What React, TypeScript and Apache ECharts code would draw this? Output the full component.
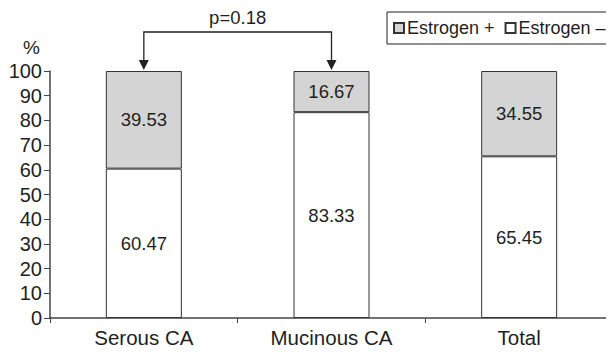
import React, { useEffect, useRef } from "react";
import * as echarts from "echarts";

const categories = ["Serous CA", "Mucinous CA", "Total"];
const estrogenNeg = [60.47, 83.33, 65.45];
const estrogenPos = [39.53, 16.67, 34.55];
const yTicks = [0, 100];
const pValueText = "p=0.18";
const compareFrom = 0;
const compareTo = 1;

const TXT = "#231f20";
const FONT = "Liberation Sans, Arial, sans-serif";

export default function App() {
  const ref = useRef<HTMLDivElement>(null);
  useEffect(() => {
    if (!ref.current) return;
    const chart = echarts.init(ref.current, null, { renderer: "svg" });
    const labelStyle = {
      show: true,
      position: "inside" as const,
      color: TXT,
      fontSize: 18.5,
      fontFamily: FONT,
      formatter: (p: any) => p.value.toFixed(2),
    };
    chart.setOption({
      animation: false,
      textStyle: { fontFamily: FONT },
      grid: { left: 50, right: 1, top: 71, bottom: 37, containLabel: false },
      legend: {
        data: ["Estrogen +", "Estrogen –"],
        orient: "horizontal",
        left: 387,
        top: 12,
        width: 300,
        padding: [7, 40, 7, 6],
        itemGap: 10,
        itemWidth: 10,
        itemHeight: 10,
        icon: "rect",
        borderColor: "#222",
        borderWidth: 1,
        borderRadius: 0,
        textStyle: { color: TXT, fontSize: 18, fontFamily: FONT, padding: [0, 0, 0, -2] },
      },
      xAxis: {
        type: "category",
        data: categories,
        axisLine: { lineStyle: { color: "#444", width: 1.5 } },
        axisTick: { show: true, length: 5, inside: false, lineStyle: { color: "#444" } },
        axisLabel: { color: TXT, fontSize: 20.5, fontFamily: FONT, margin: 9 },
      },
      yAxis: {
        type: "value",
        min: yTicks[0],
        max: yTicks[1],
        interval: 10,
        name: "%",
        nameLocation: "end",
        nameGap: 14,
        nameTextStyle: { color: TXT, fontSize: 19, fontFamily: FONT, align: "right", padding: [0, 10, 0, 0] },
        axisLine: { show: true, lineStyle: { color: "#444", width: 1.5 } },
        axisTick: { show: true, length: 6, lineStyle: { color: "#444" } },
        axisLabel: { color: TXT, fontSize: 20, fontFamily: FONT, margin: 8 },
        splitLine: { show: false },
      },
      series: [
        {
          name: "Estrogen –",
          type: "bar",
          stack: "s",
          barWidth: 76,
          data: estrogenNeg,
          itemStyle: { color: "#ffffff", borderColor: "#333", borderWidth: 1 },
          label: labelStyle,
        },
        {
          name: "Estrogen +",
          type: "bar",
          stack: "s",
          barWidth: 76,
          data: estrogenPos,
          itemStyle: { color: "#d4d4d4", borderColor: "#333", borderWidth: 1 },
          label: labelStyle,
        },
      ],
    });

    const p1 = chart.convertToPixel({ seriesIndex: 0 }, [compareFrom, 100]) as number[];
    const p2 = chart.convertToPixel({ seriesIndex: 0 }, [compareTo, 100]) as number[];
    const lineY = 32;
    const tipY = p1[1] - 1;
    const hw = 5;
    const hh = 10;
    chart.setOption({
      graphic: [
        {
          type: "polyline",
          shape: { points: [[p1[0], tipY - hh], [p1[0], lineY], [p2[0], lineY], [p2[0], tipY - hh]] },
          style: { stroke: "#222", lineWidth: 1.3, fill: null },
        },
        {
          type: "polygon",
          shape: { points: [[p1[0] - hw, tipY - hh], [p1[0] + hw, tipY - hh], [p1[0], tipY]] },
          style: { fill: "#222" },
        },
        {
          type: "polygon",
          shape: { points: [[p2[0] - hw, tipY - hh], [p2[0] + hw, tipY - hh], [p2[0], tipY]] },
          style: { fill: "#222" },
        },
        {
          type: "text",
          x: (p1[0] + p2[0]) / 2,
          y: lineY - 5,
          style: {
            text: pValueText,
            fill: TXT,
            fontSize: 18.5,
            fontFamily: FONT,
            align: "center",
            verticalAlign: "bottom",
          },
        },
      ],
    });
    return () => chart.dispose();
  }, []);
  return <div ref={ref} style={{ width: 614, height: 355, margin: -8 }} />;
}
